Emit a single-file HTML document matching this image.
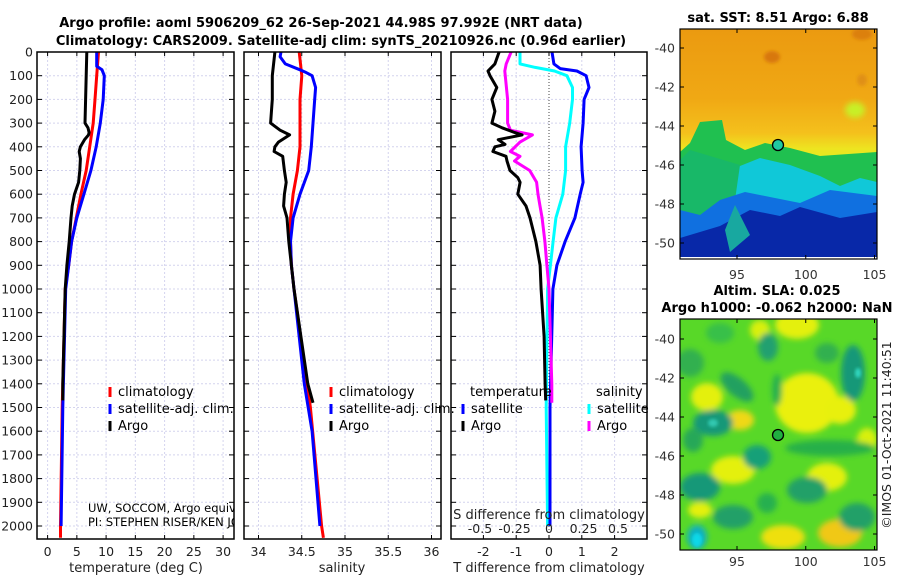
<!DOCTYPE html>
<html><head><meta charset="utf-8"><style>
html,body{margin:0;padding:0;background:#fff;}
svg{display:block;font-family:"DejaVu Sans","Liberation Sans",sans-serif;}
</style></head><body>
<svg id="fig" width="900" height="580" viewBox="0 0 900 580" xmlns="http://www.w3.org/2000/svg">
<defs>
<clipPath id="c1"><rect x="37" y="52" width="197" height="487"/></clipPath>
<clipPath id="c2"><rect x="244" y="52" width="197" height="487"/></clipPath>
<clipPath id="c3"><rect x="451" y="52" width="196" height="487"/></clipPath>
<clipPath id="cm1"><rect x="680" y="29" width="197" height="230"/></clipPath>
<clipPath id="cm2"><rect x="680" y="319" width="197" height="231"/></clipPath>
<linearGradient id="sstg" x1="0" y1="0" x2="0" y2="1">
<stop offset="0" stop-color="#eb9a10"/><stop offset="0.3" stop-color="#f0a814"/><stop offset="0.45" stop-color="#f4c01c"/><stop offset="0.52" stop-color="#eee420"/><stop offset="0.6" stop-color="#d8f020"/></linearGradient>
<filter id="bl" x="-50%" y="-50%" width="200%" height="200%"><feGaussianBlur stdDeviation="3"/></filter>
<filter id="bl2" x="-20%" y="-20%" width="140%" height="140%"><feGaussianBlur stdDeviation="1.5"/></filter>
</defs>
<g font-weight="bold" font-size="13" text-anchor="middle">
<text x="321" y="27">Argo profile: aoml 5906209_62 26-Sep-2021 44.98S 97.992E (NRT data)</text>
<text x="341" y="45">Climatology: CARS2009. Satellite-adj clim: synTS_20210926.nc (0.96d earlier)</text>
</g>
<g id="panels"></g>
<g id="maps"></g>
</svg>
<script>
// ---- data ----
const tempDepthArgo=[0,100,200,300,320,340,350,370,400,420,450,500,550,600,650,700,800,900,1000,1200,1400,1470];
const tempArgo=[6.7,6.6,6.5,6.4,6.9,7.1,7.0,6.3,5.6,5.4,5.6,5.5,5.3,4.6,4.2,4.0,3.7,3.3,3.0,2.8,2.6,2.6];
const depthClim=[0,100,200,300,400,500,600,700,800,900,1000,1500,2000,2050];
const tempClim=[8.7,8.4,8.1,7.8,7.2,6.6,5.7,4.9,4.1,3.6,3.0,2.5,2.2,2.2];
const depthSat=[0,60,75,100,200,300,400,500,600,700,800,900,1000,1500,2000];
const tempSat=[8.4,8.4,9.3,9.7,9.5,9.0,8.3,7.4,6.2,5.0,4.1,3.6,3.1,2.6,2.3];
const salDepthArgo=[0,100,200,300,330,350,380,400,420,440,500,550,600,650,700,800,900,1000,1400,1480];
const salArgo=[34.19,34.16,34.16,34.14,34.25,34.36,34.23,34.19,34.18,34.28,34.30,34.32,34.30,34.29,34.33,34.35,34.38,34.41,34.57,34.63];
const salClim=[34.47,34.50,34.48,34.48,34.48,34.45,34.40,34.37,34.37,34.38,34.41,34.60,34.73,34.75];
const salDepthSat=[0,20,50,75,85,100,150,200,300,400,500,600,700,800,900,1000,1400,1600,2000];
const salSat=[34.26,34.25,34.31,34.48,34.54,34.62,34.66,34.65,34.63,34.61,34.58,34.48,34.40,34.37,34.38,34.41,34.53,34.62,34.71];
const dTDepthArgo=[0,50,80,100,150,200,250,300,320,340,350,370,390,400,420,440,460,500,530,550,600,650,700,800,900,1000,1200,1400,1470];
const dTArgo=[-1.52,-1.65,-1.86,-1.80,-1.59,-1.74,-1.65,-1.74,-1.43,-1.04,-0.82,-1.55,-1.34,-1.65,-1.71,-1.31,-1.28,-1.19,-0.95,-0.88,-0.95,-0.70,-0.58,-0.40,-0.27,-0.24,-0.15,-0.12,-0.10];
const dSDepthArgo=[0,50,80,200,300,330,350,380,420,440,460,500,550,600,650,700,800,900,1000,1400,1480];
const dSArgo=[-0.275,-0.31,-0.32,-0.30,-0.30,-0.28,-0.12,-0.21,-0.28,-0.21,-0.25,-0.14,-0.09,-0.08,-0.065,-0.05,-0.03,-0.015,0,0.02,0.02];
const dSDepthSat=[0,50,65,80,100,150,200,300,400,500,600,700,800,900,1000,1500,2000];
const dSSat=[-0.21,-0.21,-0.10,0.04,0.13,0.17,0.17,0.15,0.12,0.12,0.10,0.05,0.03,0.01,-0.01,-0.02,-0.01];
const dTDepthSat=[0,50,70,80,100,150,200,300,400,500,550,600,700,800,900,1000,1500,2000];
const dTSat=[0.09,0.15,0.34,0.85,1.13,1.22,1.07,1.04,0.98,1.01,1.04,0.95,0.79,0.49,0.24,0.12,0.03,0.03];
const depthTicks=[0,100,200,300,400,500,600,700,800,900,1000,1100,1200,1300,1400,1500,1600,1700,1800,1900,2000];
const tempTicks=[0,5,10,15,20,25,30];
const salTicks=[34,34.5,35,35.5,36];
const salTickLabels=["34","34.5","35","35.5","36"];
const dTTicks=[-2,-1,0,1,2];
const dSTicks=[-0.5,-0.25,0,0.25,0.5];
const dSTickLabels=["-0.5","-0.25","0","0.25","0.5"];
const latTicks=[-40,-42,-44,-46,-48,-50];
const lonTicks=[95,100,105];

// ---- scales ----
const NS="http://www.w3.org/2000/svg";
const yD=d=>52+d*0.237;
const xT=t=>47.6+t*5.85;
const xS=s=>258.5+(s-34)*86.5;
const xDT=v=>549+v*32.8;
const xDS=v=>549+v*138;
function el(tag,attrs,parent,txt){const e=document.createElementNS(NS,tag);for(const k in attrs)e.setAttribute(k,attrs[k]);if(txt!==undefined)e.textContent=txt;parent.appendChild(e);return e;}
const panels=document.getElementById('panels');

function panel(x0,w,clip,name){
  const g=el('g',{},panels);
  
  
  return g;
}
function grid(g,x0,w,xs){
  depthTicks.forEach(d=>{const l=el('line',{x1:x0,x2:x0+w,y1:yD(d),y2:yD(d),stroke:'#d4d4ee','stroke-width':1,'stroke-dasharray':'2,2'},g);
    });
  xs.forEach(x=>{const l=el('line',{x1:x,x2:x,y1:52,y2:539,stroke:'#d4d4ee','stroke-width':1,'stroke-dasharray':'2,2'},g);
    });
}
function frame(g,x0,w,xs){
  const r=el('rect',{x:x0,y:52,width:w,height:487,fill:'none',stroke:'#000','stroke-width':1.5},g);
  
  depthTicks.forEach(d=>{el('line',{x1:x0,x2:x0+5,y1:yD(d),y2:yD(d),stroke:'#000'},g);el('line',{x1:x0+w-5,x2:x0+w,y1:yD(d),y2:yD(d),stroke:'#000'},g);});
  xs.forEach(x=>{el('line',{x1:x,x2:x,y1:539,y2:535,stroke:'#000'},g);el('line',{x1:x,x2:x,y1:52,y2:56,stroke:'#000'},g);});
}
function line(g,xs,ds,xf,color,clip,name){
  const p=el('polyline',{points:xs.map((v,i)=>xf(v).toFixed(1)+','+yD(ds[i]).toFixed(1)).join(' '),fill:'none',stroke:color,'stroke-width':3,'stroke-linejoin':'round','clip-path':'url(#'+clip+')'},g);
  
  
}
function legendEntry(g,x,y,color,label){
  const e=el('g',{},g);
  
  
  el('line',{x1:x,x2:x,y1:y-9,y2:y+1,stroke:color,'stroke-width':3},e);
  el('text',{x:x+8,y:y,'font-size':13},e,label);
}
function xLabels(g,vals,labels,xf,y){
  vals.forEach((v,i)=>{const t=el('text',{x:xf(v),y:y,'font-size':12.5,'text-anchor':'middle',fill:'#222'},g,labels[i]);
    });
}

// Panel 1 temperature
const g1=panel(37,197,'c1','temperature-panel');
grid(g1,37,197,tempTicks.map(xT));
line(g1,tempClim,depthClim,xT,'#ff0000','c1','temp-climatology-line');
line(g1,tempSat,depthSat,xT,'#0000ff','c1','temp-satellite-line');
line(g1,tempArgo,tempDepthArgo,xT,'#000000','c1','temp-argo-line');
frame(g1,37,197,tempTicks.map(xT));
depthTicks.forEach(d=>{const t=el('text',{x:33,y:yD(d)+4.5,'font-size':12.5,'text-anchor':'end',fill:'#222'},g1,String(d));
  });
xLabels(g1,tempTicks,tempTicks.map(String),xT,556);
(function(){const t=el('text',{x:136,y:572,'font-size':13,'text-anchor':'middle',fill:'#222'},g1,'temperature (deg C)');})();
legendEntry(g1,110,396,'#ff0000','climatology');
legendEntry(g1,110,413,'#0000ff','satellite-adj. clim.');
legendEntry(g1,110,430,'#000000','Argo');
(function(){const n=el('g',{'clip-path':'url(#c1)','font-size':11.5},g1);
el('text',{x:88,y:512},n,'UW, SOCCOM, Argo equivalent');el('text',{x:88,y:526},n,'PI: STEPHEN RISER/KEN JOHNSON');})();

// Panel 2 salinity
const g2=panel(244,197,'c2','salinity-panel');
grid(g2,244,197,salTicks.map(xS));
line(g2,salClim,depthClim,xS,'#ff0000','c2','sal-climatology-line');
line(g2,salSat,salDepthSat,xS,'#0000ff','c2','sal-satellite-line');
line(g2,salArgo,salDepthArgo,xS,'#000000','c2','sal-argo-line');
frame(g2,244,197,salTicks.map(xS));
xLabels(g2,salTicks,salTickLabels,xS,556);
(function(){const t=el('text',{x:342,y:572,'font-size':13,'text-anchor':'middle',fill:'#222'},g2,'salinity');})();
legendEntry(g2,331,396,'#ff0000','climatology');
legendEntry(g2,331,413,'#0000ff','satellite-adj. clim.');
legendEntry(g2,331,430,'#000000','Argo');

// Panel 3 differences
const g3=panel(451,196,'c3','difference-panel');
grid(g3,451,196,dTTicks.filter(v=>v!==0).map(xDT));
(function(){const z=el('line',{x1:549,x2:549,y1:52,y2:539,stroke:'#444','stroke-dasharray':'1,2'},g3);})();
line(g3,dSSat,dSDepthSat,xDS,'#00ffff','c3','sal-diff-satellite-line');
line(g3,dTSat,dTDepthSat,xDT,'#0000ff','c3','temp-diff-satellite-line');
line(g3,dSArgo,dSDepthArgo,xDS,'#ff00ff','c3','sal-diff-argo-line');
line(g3,dTArgo,dTDepthArgo,xDT,'#000000','c3','temp-diff-argo-line');
frame(g3,451,196,dTTicks.map(xDT));
xLabels(g3,dTTicks,dTTicks.map(String),xDT,556);
xLabels(g3,dSTicks,dSTickLabels,xDS,533);
(function(){const t=el('text',{x:549,y:572,'font-size':13,'text-anchor':'middle',fill:'#222'},g3,'T difference from climatology');
const s=el('text',{x:549,y:519,'font-size':13,'text-anchor':'middle',fill:'#222'},g3,'S difference from climatology');})();
(function(){const t=el('text',{x:470,y:396,'font-size':13},g3,'temperature');
const s=el('text',{x:596,y:396,'font-size':13},g3,'salinity');})();
legendEntry(g3,463,413,'#0000ff','satellite');
legendEntry(g3,463,430,'#000000','Argo');
legendEntry(g3,589,413,'#00ffff','satellite');
legendEntry(g3,589,430,'#ff00ff','Argo');

// ---- maps ----
const maps=document.getElementById('maps');
const lonX=l=>737+(l-95)*13.75;
function mapAxes(g,top,bottom,latY,labY){
  el('rect',{x:680,y:top,width:197,height:bottom-top,fill:'none',stroke:'#000','stroke-width':1.2},g);
  latTicks.forEach(la=>{const y=latY(la);el('line',{x1:680,x2:684,y1:y,y2:y,stroke:'#000'},g);el('line',{x1:873,x2:877,y1:y,y2:y,stroke:'#000'},g);
    const t=el('text',{x:675,y:y+4.5,'font-size':12.5,'text-anchor':'end',fill:'#333'},g,String(la));});
  lonTicks.forEach(lo=>{const x=lonX(lo);el('line',{x1:x,x2:x,y1:bottom,y2:bottom-4,stroke:'#000'},g);el('line',{x1:x,x2:x,y1:top,y2:top+4,stroke:'#000'},g);
    const t=el('text',{x:x,y:labY,'font-size':12.5,'text-anchor':'middle',fill:'#333'},g,String(lo));});
}
// SST map
const m1=el('g',{},maps);


const mi=el('g',{'clip-path':'url(#cm1)'},m1);
el('rect',{x:680,y:29,width:197,height:230,fill:'url(#sstg)'},mi);
el('ellipse',{cx:772,cy:57,rx:8,ry:6,fill:'#d87810',filter:'url(#bl2)'},mi);
el('ellipse',{cx:862,cy:34,rx:10,ry:6,fill:'#dc8010',filter:'url(#bl2)'},mi);
el('ellipse',{cx:862,cy:80,rx:5,ry:6,fill:'#e09018',filter:'url(#bl2)'},mi);
el('ellipse',{cx:855,cy:110,rx:10,ry:8,fill:'#c8f028',filter:'url(#bl)'},mi);
el('polygon',{points:'680,152 690,143 700,122 722,120 726,140 745,150 765,143 790,148 820,156 877,152 877,259 680,259',fill:'#20c050'},mi);
el('polygon',{points:'680,205 700,178 730,170 760,158 790,165 820,176 840,186 860,178 877,182 877,259 680,259',fill:'#10c8d8'},mi);
el('polygon',{points:'690,150 740,165 735,200 730,245 700,250 680,245 680,160',fill:'#18b868'},mi);
el('polygon',{points:'680,210 700,215 720,200 745,192 770,197 800,203 830,190 877,196 877,259 680,259',fill:'#1070e0'},mi);
el('polygon',{points:'680,238 700,232 720,226 750,210 780,216 800,207 840,218 877,212 877,259 680,259',fill:'#0828a8'},mi);
el('polygon',{points:'735,205 750,235 730,252 725,230',fill:'#18a8a0'},mi);
el('rect',{x:680,y:257,width:197,height:2,fill:'#fff'},mi);
(function(){const c=el('circle',{cx:778,cy:145,r:5.5,fill:'#20c8a0',stroke:'#000','stroke-width':1.3},m1);})();
mapAxes(m1,29,259,la=>48+(-40-la)*19.5,279);
(function(){const t=el('text',{x:778,y:22,'font-size':13,'font-weight':'bold','text-anchor':'middle'},m1,'sat. SST: 8.51 Argo: 6.88');})();

// SLA map
const m2=el('g',{},maps);


const mj=el('g',{'clip-path':'url(#cm2)'},m2);
el('rect',{x:680,y:319,width:197,height:231,fill:'#58d828'},mj);
const bg=el('g',{filter:'url(#bl)'},mj);
[[797,325,22,14,0,'#e4f010'],[807,403,32,30,0,'#eaf008'],[707,397,16,14,0,'#e4f010'],[740,420,14,10,0,'#f0d818'],[733,470,22,14,0,'#e4f010'],[827,477,20,14,0,'#e4f010'],[840,533,22,14,0,'#f0c818'],[783,537,22,12,0,'#eee010'],[840,410,16,14,0,'#e8f010'],[760,330,10,10,0,'#d8f010'],[700,510,12,8,0,'#e4f010'],[867,440,10,12,0,'#d8f010'],
 [690,363,14,14,0,'#30b050'],[720,333,14,10,0,'#38c048'],[737,387,20,9,40,'#20a060'],[768,347,10,14,0,'#20a070'],[777,390,5,16,0,'#28b050'],[713,423,20,13,0,'#189878'],[693,440,10,12,0,'#28a858'],[757,457,14,12,0,'#18a078'],[830,448,45,8,0,'#28b048'],[853,373,12,28,0,'#189878'],[827,353,12,10,0,'#30b050'],[700,487,20,14,0,'#189878'],[807,490,20,13,0,'#20a068'],[767,503,10,10,0,'#28b050'],[733,517,20,12,0,'#20a068'],[857,517,18,14,0,'#20a068'],[697,537,10,12,0,'#10b0c0']].forEach(b=>{
  const e=el('ellipse',{cx:b[0],cy:b[1],rx:b[2],ry:b[3],fill:b[5],transform:'rotate('+b[4]+' '+b[0]+' '+b[1]+')'},bg);});
el('ellipse',{cx:697,cy:540,rx:5,ry:7,fill:'#10d8e8',filter:'url(#bl2)'},mj);
el('ellipse',{cx:713,cy:423,rx:5,ry:4,fill:'#30c8b0',filter:'url(#bl2)'},mj);
el('ellipse',{cx:858,cy:373,rx:3,ry:5,fill:'#30d8c0',filter:'url(#bl2)'},mj);
(function(){const c=el('circle',{cx:778,cy:435,r:5.5,fill:'#20b040',stroke:'#000','stroke-width':1.3},m2);})();
mapAxes(m2,319,550,la=>339+(-40-la)*19.5,566);
(function(){const t=el('text',{x:777,y:295,'font-size':13,'font-weight':'bold','text-anchor':'middle'},m2,'Altim. SLA: 0.025');
const t2=el('text',{x:777,y:312,'font-size':13,'font-weight':'bold','text-anchor':'middle'},m2,'Argo h1000: -0.062 h2000: NaN');
const c=el('text',{x:0,y:0,'font-size':12.5,'text-anchor':'middle',fill:'#222',transform:'translate(891,435) rotate(-90)'},m2,'©IMOS 01-Oct-2021 11:40:51');})();
</script>
</body></html>
